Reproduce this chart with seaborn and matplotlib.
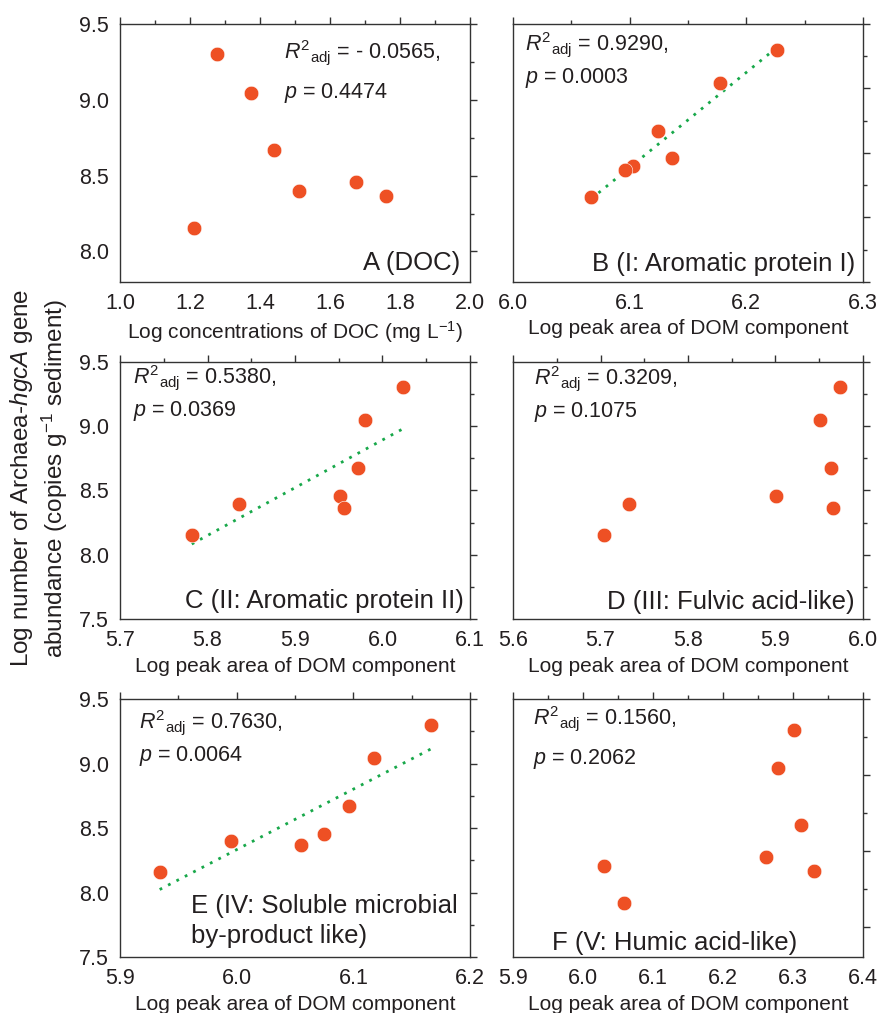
#!/usr/bin/env python3
import matplotlib
matplotlib.use("Agg")
import matplotlib.pyplot as plt
import pandas as pd
import seaborn as sns
from matplotlib.ticker import FormatStrFormatter, MultipleLocator


# log gene abundance of the seven samples (same order in every panel)
ABUNDANCE = [8.157, 9.300, 9.046, 8.672, 8.398, 8.457, 8.366]

DOC = [1.212, 1.276, 1.374, 1.439, 1.512, 1.675, 1.761]
COMP_I = [6.067, 6.226, 6.177, 6.124, 6.103, 6.136, 6.096]
COMP_II = [5.782, 6.023, 5.980, 5.972, 5.836, 5.952, 5.956]
COMP_III = [5.704, 5.974, 5.951, 5.963, 5.733, 5.901, 5.966]
COMP_IV = [5.934, 6.167, 6.118, 6.096, 5.995, 6.075, 6.055]
COMP_V = [6.058, 6.302, 6.278, 6.312, 6.030, 6.262, 6.330]

PANEL_X = [DOC, COMP_I, COMP_II, COMP_III, COMP_IV, COMP_V]
PANEL_NAMES = [
    "A (DOC)",
    "B (I: Aromatic protein I)",
    "C (II: Aromatic protein II)",
    "D (III: Fulvic acid-like)",
    "E (IV: Soluble microbial\nby-product like)",
    "F (V: Humic acid-like)",
]
R2_TEXT = ["- 0.0565,", "0.9290,", "0.5380,", "0.3209,", "0.7630,", "0.1560,"]
P_TEXT = ["0.4474", "0.0003", "0.0369", "0.1075", "0.0064", "0.2062"]
SHOW_FIT = [False, True, True, False, True, False]
XLIMS = [(1.0, 2.0), (6.0, 6.3), (5.7, 6.1), (5.6, 6.0), (5.9, 6.2), (5.9, 6.4)]
XMAJOR = [0.2, 0.1, 0.1, 0.1, 0.1, 0.1]
YLIMS = [(7.8, 9.5), (7.5, 9.5), (7.5, 9.5), (7.5, 9.5), (7.5, 9.5), (7.8, 9.5)]
XLABELS = ["Log concentrations of DOC (mg L$^{-1}$)"] + ["Log peak area of DOM component"] * 5

# text placement in axes fraction: (x, y R-line, y p-line)
STATS_POS = [(0.469, 0.89, 0.733), (0.034, 0.922, 0.79), (0.037, 0.94, 0.81),
             (0.06, 0.934, 0.806), (0.055, 0.91, 0.78), (0.057, 0.926, 0.767)]
NAME_POS = [(0.971, 0.074, "right"), (0.977, 0.07, "right"), (0.983, 0.07, "right"),
            (0.977, 0.066, "right"), (0.203, 0.14, "left"), (0.111, 0.054, "left")]

DOT_COLOR = "#EE5024"
FIT_COLOR = "#18A84A"
INK = "#231F20"


def style_axis(ax, i):
    ax.set_xlim(*XLIMS[i])
    ax.set_ylim(*YLIMS[i])
    ax.xaxis.set_major_locator(MultipleLocator(XMAJOR[i]))
    ax.xaxis.set_minor_locator(MultipleLocator(XMAJOR[i] / 2))
    ax.yaxis.set_major_locator(MultipleLocator(0.5))
    ax.yaxis.set_minor_locator(MultipleLocator(0.25))
    ax.xaxis.set_major_formatter(FormatStrFormatter("%.1f"))
    ax.yaxis.set_major_formatter(FormatStrFormatter("%.1f"))
    ax.tick_params(axis="both", which="major", direction="out", length=5, width=1,
                   labelsize=15.5, colors="#333333", labelcolor=INK, pad=3)
    ax.tick_params(axis="both", which="minor", direction="out", length=3, width=1, colors="#333333")
    ax.tick_params(axis="both", which="both", top=True, right=True)
    for sp in ax.spines.values():
        sp.set_visible(True)
        sp.set_color("#333333")
        sp.set_linewidth(1.0)
    ax.set_xlabel(XLABELS[i], fontsize=15, color=INK, labelpad=4)
    ax.set_ylabel("")
    if i % 2 == 1:
        ax.set_yticklabels([])
    ax.grid(False)


def main():
    sns.set_theme(style="white")
    plt.rcParams["font.family"] = ["Liberation Sans", "DejaVu Sans"]
    plt.rcParams["mathtext.fontset"] = "custom"
    plt.rcParams["mathtext.rm"] = "Liberation Sans"
    plt.rcParams["mathtext.it"] = "Liberation Sans:italic"
    plt.rcParams["mathtext.bf"] = "Liberation Sans:bold"

    fig, axes = plt.subplots(3, 2, figsize=(8.78, 10.13), dpi=100)
    fig.subplots_adjust(left=0.1367, right=0.9829, top=0.9763, bottom=0.0553, wspace=0.123, hspace=0.31)

    for i, ax in enumerate(axes.flat):
        df = pd.DataFrame({"x": PANEL_X[i], "y": ABUNDANCE})
        if SHOW_FIT[i]:
            sns.regplot(data=df, x="x", y="y", ax=ax, scatter=False, ci=None, truncate=True,
                        line_kws={"color": FIT_COLOR, "lw": 2.0, "ls": (0, (1.0, 2.4)), "zorder": 2})
        sns.scatterplot(data=df, x="x", y="y", ax=ax, s=110, color=DOT_COLOR, edgecolor="white",
                        linewidth=0.4, zorder=3)
        style_axis(ax, i)

        sx, sy1, sy2 = STATS_POS[i]
        ax.text(sx, sy1, r"$\mathit{R}^{2}{}_{\mathrm{adj}}$ = " + R2_TEXT[i], transform=ax.transAxes,
                fontsize=15.5, color=INK, ha="left", va="center")
        ax.text(sx, sy2, r"$\mathit{p}$ = " + P_TEXT[i], transform=ax.transAxes,
                fontsize=15.5, color=INK, ha="left", va="center")
        nx, ny, ha = NAME_POS[i]
        ax.text(nx, ny, PANEL_NAMES[i], transform=ax.transAxes, fontsize=18.5, color=INK,
                ha=ha, va="center", linespacing=1.3)

    fig.text(0.044, 0.528,
             "Log number of Archaea-$\\mathit{hgcA}$ gene\nabundance (copies g$^{-1}$ sediment)",
             rotation=90, ha="center", va="center", fontsize=17.5, color=INK,
             multialignment="center", linespacing=1.2)

    fig.savefig("out.png", dpi=100, facecolor="white")
    plt.close(fig)


if __name__ == "__main__":
    main()
